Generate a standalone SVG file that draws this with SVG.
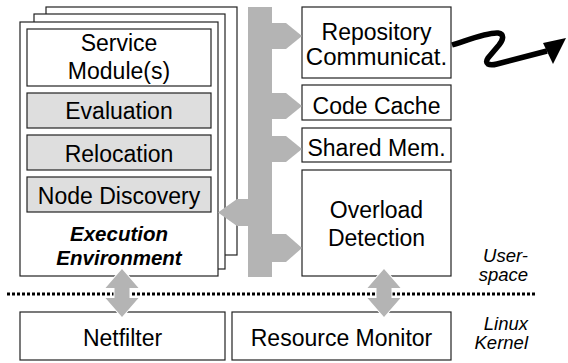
<svg xmlns="http://www.w3.org/2000/svg" width="568" height="363" viewBox="0 0 568 363">
<defs>
<style>
.box{fill:#fff;stroke:#222;stroke-width:1.2}
.gbox{fill:#dedede;stroke:#222;stroke-width:1.2}
.bus{fill:#b4b4b4}
.dbl{fill:#b4b4b4;stroke:#fff;stroke-width:2;paint-order:stroke}
.t{font-family:"Liberation Sans",Arial,sans-serif;font-size:23px;fill:#000;text-anchor:middle}
.be{font-family:"Liberation Sans",Arial,sans-serif;font-size:20.5px;font-weight:bold;font-style:italic;fill:#000;text-anchor:middle}
.lab{font-family:"Liberation Sans",Arial,sans-serif;font-size:18.5px;font-style:italic;fill:#000;text-anchor:end}
</style>
</defs>
<rect width="568" height="363" fill="#fff"/>

<g id="layer-separator">
<line x1="7" y1="294" x2="536" y2="294" stroke="#000" stroke-width="3" stroke-dasharray="3,2"/>
</g>

<g id="execution-environment">
<rect class="box" x="46" y="7" width="191" height="248"/>
<rect class="box" x="34" y="14" width="191" height="255"/>
<rect class="box" x="20" y="22" width="198" height="254"/>
<text class="be" x="119" y="241">Execution</text>
<text class="be" x="119" y="265">Environment</text>
</g>
<g id="service-modules">
<rect class="box" x="27" y="29" width="184" height="57"/>
<text class="t" x="119" y="51">Service</text>
<text class="t" x="119" y="79">Module(s)</text>
</g>
<g id="evaluation">
<rect class="gbox" x="27" y="93" width="184" height="35"/>
<text class="t" x="119" y="119">Evaluation</text>
</g>
<g id="relocation">
<rect class="gbox" x="27" y="135" width="184" height="35"/>
<text class="t" x="119" y="162">Relocation</text>
</g>
<g id="node-discovery">
<rect class="gbox" x="27" y="177" width="184" height="35"/>
<text class="t" x="119" y="204">Node Discovery</text>
</g>

<g id="repository-communication">
<rect class="box" x="302" y="7" width="149" height="71"/>
<text class="t" x="376.5" y="40">Repository</text>
<text class="t" x="376.5" y="65" style="font-size:24px">Communicat.</text>
</g>
<g id="code-cache">
<rect class="box" x="302" y="85" width="149" height="35"/>
<text class="t" x="376.5" y="114">Code Cache</text>
</g>
<g id="shared-mem">
<rect class="box" x="302" y="128" width="149" height="34"/>
<text class="t" x="376.5" y="156">Shared Mem.</text>
</g>
<g id="overload-detection">
<rect class="box" x="302" y="170" width="149" height="106"/>
<text class="t" x="376.5" y="218">Overload</text>
<text class="t" x="376.5" y="246">Detection</text>
</g>
<g id="netfilter">
<rect class="box" x="20" y="312" width="205" height="48"/>
<text class="t" x="122.5" y="346">Netfilter</text>
</g>
<g id="resource-monitor">
<rect class="box" x="232" y="312" width="219" height="48"/>
<text class="t" x="341.5" y="346">Resource Monitor</text>
</g>

<g id="labels">
<text class="lab" x="528" y="262">User-</text>
<text class="lab" x="528" y="281">space</text>
<text class="lab" x="528" y="330">Linux</text>
<text class="lab" x="528" y="349">Kernel</text>
</g>

<g id="connectors">
<rect class="bus" x="248" y="7" width="24" height="270"/>
<polygon class="bus" points="272,23 286,23 302,36 286,49 272,49"/>
<polygon class="bus" points="272,93 286,93 302,106 286,119 272,119"/>
<polygon class="bus" points="272,136 286,136 302,149 286,162 272,162"/>
<polygon class="bus" points="272,234 286,234 302,248 286,262 272,262"/>
<polygon class="bus" points="248,199 237,199 218,212.5 237,226 248,226"/>
<polygon class="dbl" points="122,269 138.5,288 129.5,288 129.5,298 138.5,298 122,317 105.5,298 114.5,298 114.5,288 105.5,288"/>
<polygon class="dbl" points="384,269 400.5,288 391.5,288 391.5,298 400.5,298 384,317 367.5,298 376.5,298 376.5,288 367.5,288"/>
<path d="M452,45 C468,40 488,32 498,33 C505,34 503,40 499,45 L488,58 C484,64 489,66 497,64 L547,51" fill="none" stroke="#000" stroke-width="5.5" stroke-linejoin="round"/>
<polygon points="566,38 553,64 543,43" fill="#000"/>
</g>
</svg>
